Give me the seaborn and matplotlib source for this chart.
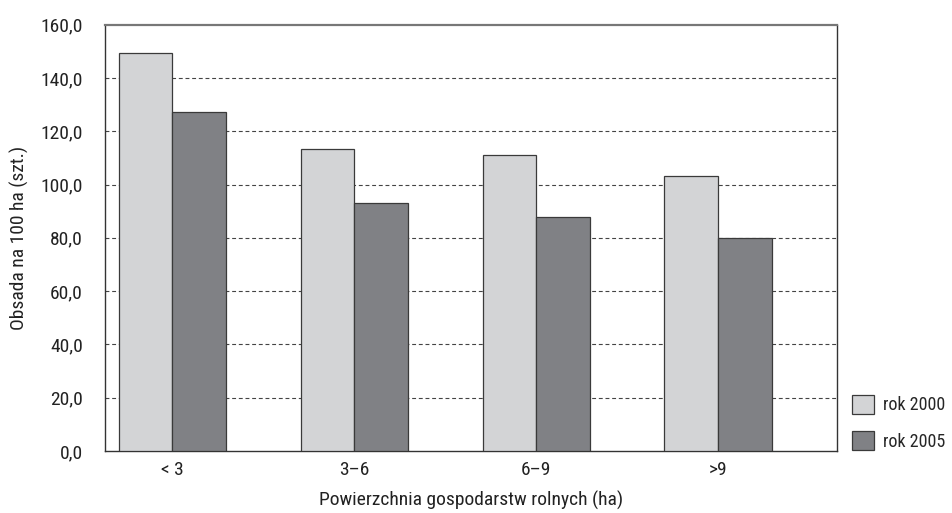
import pandas as pd
import matplotlib
matplotlib.use("Agg")
import matplotlib.pyplot as plt
from matplotlib.ticker import FuncFormatter, FixedLocator
import seaborn as sns

# dane
kategorie = ["< 3", "3–6", "6–9", ">9"]
rok_2000 = [149.3, 113.3, 111.2, 103.2]
rok_2005 = [127.3, 93.0, 88.0, 79.8]
serie = ["rok 2000", "rok 2005"]
kolory = ["#d3d4d6", "#808185"]

df = pd.DataFrame({
  "pow": kategorie * 2,
  "obsada": rok_2000 + rok_2005,
  "rok": [serie[0]] * 4 + [serie[1]] * 4,
})

sns.set_style("white")
plt.rcParams["font.family"] = ["Roboto Condensed", "Liberation Sans Narrow", "Liberation Sans", "DejaVu Sans"]

fig = plt.figure(figsize=(9.53, 5.13), dpi=100)
ax = fig.add_axes([0.1102, 0.1209, 0.768, 0.831])

sns.barplot(data=df, x="pow", y="obsada", hue="rok", order=kategorie,
            hue_order=serie, palette=kolory, width=0.59, saturation=1,
            edgecolor="#3a3a3a", linewidth=0.9, ax=ax, zorder=3)

ax.set_xlim(-0.371, 3.654)
ax.set_ylim(0, 160)
ax.set_yticks(range(0, 161, 20))
ax.yaxis.set_major_formatter(FuncFormatter(lambda v, p: f"{v:.1f}".replace(".", ",")))

# podziałki między grupami, etykiety na środku
ax.xaxis.set_major_locator(FixedLocator([-0.371, 0.5, 1.5, 2.5]))
ax.xaxis.set_minor_locator(FixedLocator(range(len(kategorie))))
ax.set_xticklabels([], minor=False)
ax.set_xticklabels(kategorie, minor=True)
ax.tick_params(axis="x", which="major", direction="out", length=6, width=0.9, color="#555555")
ax.tick_params(axis="x", which="minor", length=0, pad=7, labelsize=14, labelcolor="#222222")
ax.tick_params(axis="y", direction="out", length=8, width=0.9, color="#333333",
               labelsize=14, labelcolor="#222222", pad=8)

for v in range(20, 160, 20):
  ax.axhline(v, color="#444444", lw=0.8, ls=(0, (3.5, 2.5)), zorder=1)

for s in ax.spines.values():
  s.set_color("#333333")
  s.set_linewidth(1.0)
ax.spines["top"].set_color("#777777")
ax.spines["top"].set_linewidth(1.6)

ax.set_xlabel("Powierzchnia gospodarstw rolnych (ha)", fontsize=14, labelpad=9, color="#222222")
ax.set_ylabel("Obsada na 100 ha (szt.)", fontsize=14, labelpad=8, color="#222222")

ax.legend(loc="lower left", bbox_to_anchor=(1.02, 0.0), frameon=False,
          fontsize=13, handlelength=1.25, handleheight=1.25, borderpad=0,
          labelspacing=0.94, handletextpad=0.5, borderaxespad=0)

plt.savefig("out.png", dpi=100)
